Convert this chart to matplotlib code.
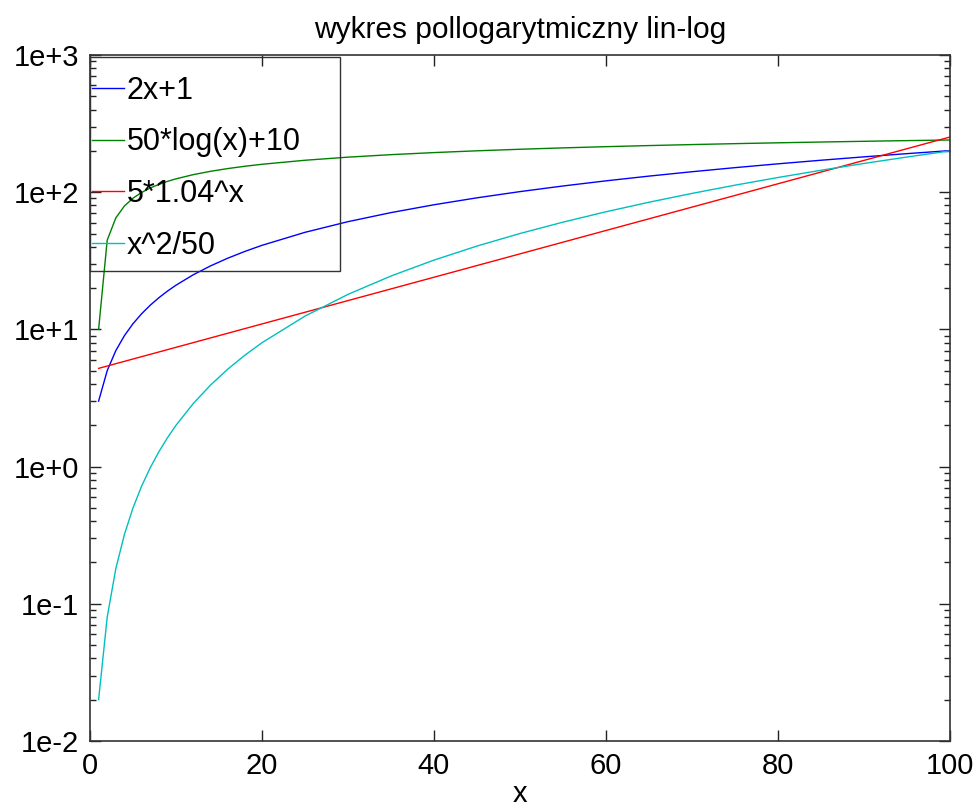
import matplotlib
matplotlib.use("Agg")
from matplotlib import pyplot as plt
from matplotlib.patches import Rectangle
from matplotlib.ticker import LogLocator, NullFormatter

plt.rcParams['font.family'] = ['Liberation Sans', 'DejaVu Sans']

# values
x_dense = [1, 2, 3, 4, 5, 6, 7, 8, 9, 10, 12, 14, 16, 18, 20, 25, 30, 35, 40,
           45, 50, 55, 60, 65, 70, 75, 80, 85, 90, 95, 100]
lin = [3, 5, 7, 9, 11, 13, 15, 17, 19, 21, 25, 29, 33, 37, 41, 51, 61, 71, 81,
       91, 101, 111, 121, 131, 141, 151, 161, 171, 181, 191, 201]
logf = [10.0, 44.66, 64.93, 79.31, 90.47, 99.59, 107.30, 113.97, 119.86, 125.13,
        134.25, 141.95, 148.63, 154.52, 159.79, 170.94, 180.06, 187.77, 194.44,
        200.33, 205.60, 210.37, 214.72, 218.72, 222.42, 225.87, 229.10, 232.13,
        234.99, 237.69, 240.26]
quad = [0.02, 0.08, 0.18, 0.32, 0.5, 0.72, 0.98, 1.28, 1.62, 2.0, 2.88, 3.92,
        5.12, 6.48, 8.0, 12.5, 18.0, 24.5, 32.0, 40.5, 50.0, 60.5, 72.0, 84.5,
        98.0, 112.5, 128.0, 144.5, 162.0, 180.5, 200.0]
x_exp = [1, 20, 40, 60, 80, 100]
expf = [5.2, 10.96, 24.0, 52.6, 115.2, 252.5]

labels = ['2x+1', '50*log(x)+10', '5*1.04^x', 'x^2/50']
colors = ['#0000ff', '#008000', '#ff0000', '#00bfbf']

yticks = [1e-2, 1e-1, 1e0, 1e1, 1e2, 1e3]
ytick_labels = ['1e-2', '1e-1', '1e+0', '1e+1', '1e+2', '1e+3']
xticks = [0, 20, 40, 60, 80, 100]

fig = plt.figure(figsize=(9.77, 8.1), dpi=100)
ax = fig.add_axes([90 / 977, 1 - 741 / 810, 860 / 977, 686 / 810])

ax.plot(x_dense, lin, color=colors[0], lw=1.0, label=labels[0])
ax.plot(x_dense, logf, color=colors[1], lw=1.0, label=labels[1])
ax.plot(x_exp, expf, color=colors[2], lw=1.0, label=labels[2])
ax.plot(x_dense, quad, color=colors[3], lw=1.0, label=labels[3])

ax.set_yscale('log')
ax.set_xlim(0, 100)
ax.set_ylim(1e-2, 1e3)
ax.set_xticks(xticks)
ax.set_xticklabels([str(v) for v in xticks])
ax.set_yticks(yticks)
ax.set_yticklabels(ytick_labels)
ax.yaxis.set_minor_locator(LogLocator(base=10, subs=range(2, 10)))
ax.yaxis.set_minor_formatter(NullFormatter())

ax.tick_params(which='both', direction='in', top=True, right=True,
               labelsize=21, width=1.0, color='#222222')
ax.tick_params(which='major', length=8, pad=8)
ax.tick_params(which='minor', length=4)
for sp in ax.spines.values():
    sp.set_linewidth(1.2)
    sp.set_color('#333333')

ax.set_title('wykres pollogarytmiczny lin-log', fontsize=21.5, pad=12)
ax.set_xlabel('x', fontsize=21, labelpad=0)

# legend box drawn separately so the handles can sit on the axes edge
ax.add_patch(Rectangle((0, 0.685), 0.2907, 0.312, transform=ax.transAxes,
                       fill=False, edgecolor='#333333', lw=1.0,
                       clip_on=False, zorder=5))
leg = ax.legend(loc='upper left', bbox_to_anchor=(0.002, 0.970),
                fontsize=22, frameon=False, borderaxespad=0, borderpad=0,
                handlelength=1.05, handletextpad=0.1, labelspacing=0.71)

fig.savefig('out.png', dpi=100)
